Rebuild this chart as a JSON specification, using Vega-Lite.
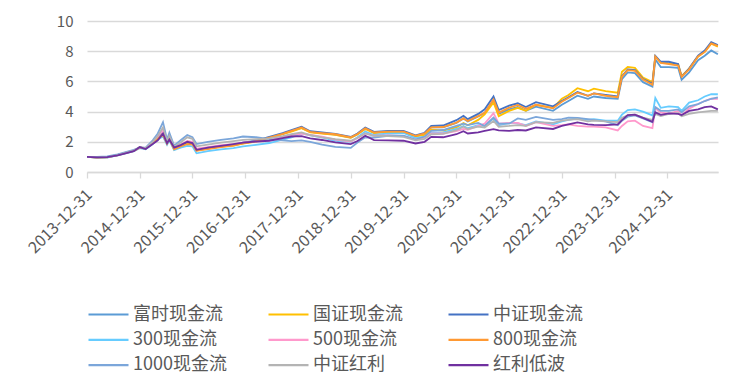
{
"$schema": "https://vega.github.io/schema/vega-lite/v6.json",
"width": 631, "height": 151,
"autosize": {"type": "none"},
"padding": {"left": 87, "top": 21, "right": 36, "bottom": 208},
"background": "white",
"data": {"values": [
{"d":"2013-12-31","s":"富时现金流","v":1.00},{"d":"2014-03-10","s":"富时现金流","v":0.97},{"d":"2014-05-20","s":"富时现金流","v":0.98},{"d":"2014-07-31","s":"富时现金流","v":1.12},{"d":"2014-09-30","s":"富时现金流","v":1.28},{"d":"2014-11-20","s":"富时现金流","v":1.40},{"d":"2014-12-31","s":"富时现金流","v":1.62},{"d":"2015-02-10","s":"富时现金流","v":1.55},{"d":"2015-03-31","s":"富时现金流","v":1.92},{"d":"2015-05-05","s":"富时现金流","v":2.25},{"d":"2015-06-10","s":"富时现金流","v":2.70},{"d":"2015-07-08","s":"富时现金流","v":1.95},{"d":"2015-07-24","s":"富时现金流","v":2.25},{"d":"2015-08-26","s":"富时现金流","v":1.55},{"d":"2015-10-10","s":"富时现金流","v":1.75},{"d":"2015-11-25","s":"富时现金流","v":1.95},{"d":"2015-12-31","s":"富时现金流","v":1.90},{"d":"2016-01-28","s":"富时现金流","v":1.45},{"d":"2016-04-15","s":"富时现金流","v":1.58},{"d":"2016-07-15","s":"富时现金流","v":1.70},{"d":"2016-10-10","s":"富时现金流","v":1.78},{"d":"2016-12-15","s":"富时现金流","v":1.92},{"d":"2017-03-15","s":"富时现金流","v":2.05},{"d":"2017-06-15","s":"富时现金流","v":2.28},{"d":"2017-09-15","s":"富时现金流","v":2.52},{"d":"2017-11-15","s":"富时现金流","v":2.72},{"d":"2018-01-24","s":"富时现金流","v":2.92},{"d":"2018-03-25","s":"富时现金流","v":2.65},{"d":"2018-06-15","s":"富时现金流","v":2.58},{"d":"2018-09-15","s":"富时现金流","v":2.48},{"d":"2018-12-31","s":"富时现金流","v":2.28},{"d":"2019-02-15","s":"富时现金流","v":2.50},{"d":"2019-04-10","s":"富时现金流","v":2.88},{"d":"2019-06-10","s":"富时现金流","v":2.60},{"d":"2019-09-15","s":"富时现金流","v":2.68},{"d":"2019-12-31","s":"富时现金流","v":2.66},{"d":"2020-03-23","s":"富时现金流","v":2.38},{"d":"2020-05-25","s":"富时现金流","v":2.55},{"d":"2020-07-10","s":"富时现金流","v":2.95},{"d":"2020-09-30","s":"富时现金流","v":2.95},{"d":"2020-12-31","s":"富时现金流","v":3.25},{"d":"2021-02-18","s":"富时现金流","v":3.55},{"d":"2021-03-20","s":"富时现金流","v":3.35},{"d":"2021-05-31","s":"富时现金流","v":3.68},{"d":"2021-07-15","s":"富时现金流","v":3.90},{"d":"2021-09-14","s":"富时现金流","v":4.75},{"d":"2021-10-20","s":"富时现金流","v":3.85},{"d":"2021-12-31","s":"富时现金流","v":4.15},{"d":"2022-03-01","s":"富时现金流","v":4.30},{"d":"2022-04-26","s":"富时现金流","v":4.05},{"d":"2022-07-05","s":"富时现金流","v":4.33},{"d":"2022-10-31","s":"富时现金流","v":4.05},{"d":"2022-12-31","s":"富时现金流","v":4.45},{"d":"2023-02-15","s":"富时现金流","v":4.70},{"d":"2023-04-18","s":"富时现金流","v":5.05},{"d":"2023-06-30","s":"富时现金流","v":4.85},{"d":"2023-08-10","s":"富时现金流","v":5.00},{"d":"2023-10-30","s":"富时现金流","v":4.90},{"d":"2024-01-22","s":"富时现金流","v":4.85},{"d":"2024-02-20","s":"富时现金流","v":6.15},{"d":"2024-03-31","s":"富时现金流","v":6.60},{"d":"2024-05-20","s":"富时现金流","v":6.55},{"d":"2024-07-15","s":"富时现金流","v":5.95},{"d":"2024-09-18","s":"富时现金流","v":5.65},{"d":"2024-10-08","s":"富时现金流","v":7.45},{"d":"2024-11-15","s":"富时现金流","v":6.95},{"d":"2025-01-10","s":"富时现金流","v":6.95},{"d":"2025-03-15","s":"富时现金流","v":6.90},{"d":"2025-04-08","s":"富时现金流","v":6.10},{"d":"2025-05-30","s":"富时现金流","v":6.60},{"d":"2025-07-31","s":"富时现金流","v":7.40},{"d":"2025-09-15","s":"富时现金流","v":7.70},{"d":"2025-10-30","s":"富时现金流","v":8.05},{"d":"2025-12-15","s":"富时现金流","v":7.80},
{"d":"2013-12-31","s":"国证现金流","v":1.00},{"d":"2014-03-10","s":"国证现金流","v":0.97},{"d":"2014-05-20","s":"国证现金流","v":0.98},{"d":"2014-07-31","s":"国证现金流","v":1.11},{"d":"2014-09-30","s":"国证现金流","v":1.27},{"d":"2014-11-20","s":"国证现金流","v":1.40},{"d":"2014-12-31","s":"国证现金流","v":1.60},{"d":"2015-02-10","s":"国证现金流","v":1.54},{"d":"2015-03-31","s":"国证现金流","v":1.90},{"d":"2015-05-05","s":"国证现金流","v":2.22},{"d":"2015-06-10","s":"国证现金流","v":2.55},{"d":"2015-07-08","s":"国证现金流","v":1.90},{"d":"2015-07-24","s":"国证现金流","v":2.20},{"d":"2015-08-26","s":"国证现金流","v":1.52},{"d":"2015-10-10","s":"国证现金流","v":1.72},{"d":"2015-11-25","s":"国证现金流","v":1.90},{"d":"2015-12-31","s":"国证现金流","v":1.86},{"d":"2016-01-28","s":"国证现金流","v":1.42},{"d":"2016-04-15","s":"国证现金流","v":1.55},{"d":"2016-07-15","s":"国证现金流","v":1.68},{"d":"2016-10-10","s":"国证现金流","v":1.75},{"d":"2016-12-15","s":"国证现金流","v":1.88},{"d":"2017-03-15","s":"国证现金流","v":2.02},{"d":"2017-06-15","s":"国证现金流","v":2.25},{"d":"2017-09-15","s":"国证现金流","v":2.50},{"d":"2017-11-15","s":"国证现金流","v":2.68},{"d":"2018-01-24","s":"国证现金流","v":2.90},{"d":"2018-03-25","s":"国证现金流","v":2.62},{"d":"2018-06-15","s":"国证现金流","v":2.55},{"d":"2018-09-15","s":"国证现金流","v":2.46},{"d":"2018-12-31","s":"国证现金流","v":2.26},{"d":"2019-02-15","s":"国证现金流","v":2.48},{"d":"2019-04-10","s":"国证现金流","v":2.85},{"d":"2019-06-10","s":"国证现金流","v":2.58},{"d":"2019-09-15","s":"国证现金流","v":2.65},{"d":"2019-12-31","s":"国证现金流","v":2.63},{"d":"2020-03-23","s":"国证现金流","v":2.35},{"d":"2020-05-25","s":"国证现金流","v":2.45},{"d":"2020-07-10","s":"国证现金流","v":2.80},{"d":"2020-09-30","s":"国证现金流","v":2.75},{"d":"2020-12-31","s":"国证现金流","v":2.95},{"d":"2021-02-18","s":"国证现金流","v":3.25},{"d":"2021-03-20","s":"国证现金流","v":3.10},{"d":"2021-05-31","s":"国证现金流","v":3.45},{"d":"2021-07-15","s":"国证现金流","v":3.82},{"d":"2021-09-14","s":"国证现金流","v":4.60},{"d":"2021-10-20","s":"国证现金流","v":3.70},{"d":"2021-12-31","s":"国证现金流","v":4.05},{"d":"2022-03-01","s":"国证现金流","v":4.25},{"d":"2022-04-26","s":"国证现金流","v":4.05},{"d":"2022-07-05","s":"国证现金流","v":4.45},{"d":"2022-10-31","s":"国证现金流","v":4.25},{"d":"2022-12-31","s":"国证现金流","v":4.85},{"d":"2023-02-15","s":"国证现金流","v":5.10},{"d":"2023-04-18","s":"国证现金流","v":5.55},{"d":"2023-06-30","s":"国证现金流","v":5.35},{"d":"2023-08-10","s":"国证现金流","v":5.52},{"d":"2023-10-30","s":"国证现金流","v":5.35},{"d":"2024-01-22","s":"国证现金流","v":5.25},{"d":"2024-02-20","s":"国证现金流","v":6.64},{"d":"2024-03-31","s":"国证现金流","v":6.95},{"d":"2024-05-20","s":"国证现金流","v":6.90},{"d":"2024-07-15","s":"国证现金流","v":6.25},{"d":"2024-09-18","s":"国证现金流","v":5.95},{"d":"2024-10-08","s":"国证现金流","v":7.65},{"d":"2024-11-15","s":"国证现金流","v":7.25},{"d":"2025-01-10","s":"国证现金流","v":7.20},{"d":"2025-03-15","s":"国证现金流","v":7.15},{"d":"2025-04-08","s":"国证现金流","v":6.35},{"d":"2025-05-30","s":"国证现金流","v":6.85},{"d":"2025-07-31","s":"国证现金流","v":7.65},{"d":"2025-09-15","s":"国证现金流","v":7.95},{"d":"2025-10-30","s":"国证现金流","v":8.50},{"d":"2025-12-15","s":"国证现金流","v":8.30},
{"d":"2013-12-31","s":"中证现金流","v":1.00},{"d":"2014-03-10","s":"中证现金流","v":0.97},{"d":"2014-05-20","s":"中证现金流","v":0.98},{"d":"2014-07-31","s":"中证现金流","v":1.13},{"d":"2014-09-30","s":"中证现金流","v":1.29},{"d":"2014-11-20","s":"中证现金流","v":1.42},{"d":"2014-12-31","s":"中证现金流","v":1.63},{"d":"2015-02-10","s":"中证现金流","v":1.56},{"d":"2015-03-31","s":"中证现金流","v":1.94},{"d":"2015-05-05","s":"中证现金流","v":2.28},{"d":"2015-06-10","s":"中证现金流","v":2.80},{"d":"2015-07-08","s":"中证现金流","v":1.98},{"d":"2015-07-24","s":"中证现金流","v":2.28},{"d":"2015-08-26","s":"中证现金流","v":1.57},{"d":"2015-10-10","s":"中证现金流","v":1.78},{"d":"2015-11-25","s":"中证现金流","v":1.98},{"d":"2015-12-31","s":"中证现金流","v":1.93},{"d":"2016-01-28","s":"中证现金流","v":1.48},{"d":"2016-04-15","s":"中证现金流","v":1.60},{"d":"2016-07-15","s":"中证现金流","v":1.72},{"d":"2016-10-10","s":"中证现金流","v":1.80},{"d":"2016-12-15","s":"中证现金流","v":1.95},{"d":"2017-03-15","s":"中证现金流","v":2.08},{"d":"2017-06-15","s":"中证现金流","v":2.32},{"d":"2017-09-15","s":"中证现金流","v":2.58},{"d":"2017-11-15","s":"中证现金流","v":2.78},{"d":"2018-01-24","s":"中证现金流","v":3.00},{"d":"2018-03-25","s":"中证现金流","v":2.70},{"d":"2018-06-15","s":"中证现金流","v":2.62},{"d":"2018-09-15","s":"中证现金流","v":2.52},{"d":"2018-12-31","s":"中证现金流","v":2.32},{"d":"2019-02-15","s":"中证现金流","v":2.55},{"d":"2019-04-10","s":"中证现金流","v":2.95},{"d":"2019-06-10","s":"中证现金流","v":2.66},{"d":"2019-09-15","s":"中证现金流","v":2.72},{"d":"2019-12-31","s":"中证现金流","v":2.72},{"d":"2020-03-23","s":"中证现金流","v":2.42},{"d":"2020-05-25","s":"中证现金流","v":2.60},{"d":"2020-07-10","s":"中证现金流","v":3.05},{"d":"2020-09-30","s":"中证现金流","v":3.08},{"d":"2020-12-31","s":"中证现金流","v":3.43},{"d":"2021-02-18","s":"中证现金流","v":3.72},{"d":"2021-03-20","s":"中证现金流","v":3.50},{"d":"2021-05-31","s":"中证现金流","v":3.85},{"d":"2021-07-15","s":"中证现金流","v":4.15},{"d":"2021-09-14","s":"中证现金流","v":5.00},{"d":"2021-10-20","s":"中证现金流","v":4.10},{"d":"2021-12-31","s":"中证现金流","v":4.40},{"d":"2022-03-01","s":"中证现金流","v":4.55},{"d":"2022-04-26","s":"中证现金流","v":4.30},{"d":"2022-07-05","s":"中证现金流","v":4.62},{"d":"2022-10-31","s":"中证现金流","v":4.35},{"d":"2022-12-31","s":"中证现金流","v":4.70},{"d":"2023-02-15","s":"中证现金流","v":4.95},{"d":"2023-04-18","s":"中证现金流","v":5.30},{"d":"2023-06-30","s":"中证现金流","v":5.05},{"d":"2023-08-10","s":"中证现金流","v":5.20},{"d":"2023-10-30","s":"中证现金流","v":5.10},{"d":"2024-01-22","s":"中证现金流","v":5.00},{"d":"2024-02-20","s":"中证现金流","v":6.35},{"d":"2024-03-31","s":"中证现金流","v":6.80},{"d":"2024-05-20","s":"中证现金流","v":6.75},{"d":"2024-07-15","s":"中证现金流","v":6.15},{"d":"2024-09-18","s":"中证现金流","v":5.85},{"d":"2024-10-08","s":"中证现金流","v":7.70},{"d":"2024-11-15","s":"中证现金流","v":7.30},{"d":"2025-01-10","s":"中证现金流","v":7.30},{"d":"2025-03-15","s":"中证现金流","v":7.15},{"d":"2025-04-08","s":"中证现金流","v":6.30},{"d":"2025-05-30","s":"中证现金流","v":6.85},{"d":"2025-07-31","s":"中证现金流","v":7.70},{"d":"2025-09-15","s":"中证现金流","v":8.05},{"d":"2025-10-30","s":"中证现金流","v":8.60},{"d":"2025-12-15","s":"中证现金流","v":8.40},
{"d":"2013-12-31","s":"300现金流","v":1.00},{"d":"2014-03-10","s":"300现金流","v":0.95},{"d":"2014-05-20","s":"300现金流","v":0.96},{"d":"2014-07-31","s":"300现金流","v":1.10},{"d":"2014-09-30","s":"300现金流","v":1.25},{"d":"2014-11-20","s":"300现金流","v":1.38},{"d":"2014-12-31","s":"300现金流","v":1.58},{"d":"2015-02-10","s":"300现金流","v":1.50},{"d":"2015-03-31","s":"300现金流","v":1.85},{"d":"2015-05-05","s":"300现金流","v":2.15},{"d":"2015-06-10","s":"300现金流","v":2.35},{"d":"2015-07-08","s":"300现金流","v":1.80},{"d":"2015-07-24","s":"300现金流","v":2.10},{"d":"2015-08-26","s":"300现金流","v":1.45},{"d":"2015-10-10","s":"300现金流","v":1.62},{"d":"2015-11-25","s":"300现金流","v":1.73},{"d":"2015-12-31","s":"300现金流","v":1.70},{"d":"2016-01-28","s":"300现金流","v":1.24},{"d":"2016-04-15","s":"300现金流","v":1.38},{"d":"2016-07-15","s":"300现金流","v":1.50},{"d":"2016-10-10","s":"300现金流","v":1.58},{"d":"2016-12-15","s":"300现金流","v":1.69},{"d":"2017-03-15","s":"300现金流","v":1.80},{"d":"2017-06-15","s":"300现金流","v":1.92},{"d":"2017-09-15","s":"300现金流","v":2.15},{"d":"2017-11-15","s":"300现金流","v":2.30},{"d":"2018-01-24","s":"300现金流","v":2.55},{"d":"2018-03-25","s":"300现金流","v":2.42},{"d":"2018-06-15","s":"300现金流","v":2.30},{"d":"2018-09-15","s":"300现金流","v":2.07},{"d":"2018-12-31","s":"300现金流","v":2.00},{"d":"2019-02-15","s":"300现金流","v":2.30},{"d":"2019-04-10","s":"300现金流","v":2.68},{"d":"2019-06-10","s":"300现金流","v":2.45},{"d":"2019-09-15","s":"300现金流","v":2.55},{"d":"2019-12-31","s":"300现金流","v":2.58},{"d":"2020-03-23","s":"300现金流","v":2.25},{"d":"2020-05-25","s":"300现金流","v":2.35},{"d":"2020-07-10","s":"300现金流","v":2.60},{"d":"2020-09-30","s":"300现金流","v":2.62},{"d":"2020-12-31","s":"300现金流","v":2.85},{"d":"2021-02-18","s":"300现金流","v":3.05},{"d":"2021-03-20","s":"300现金流","v":2.90},{"d":"2021-05-31","s":"300现金流","v":3.10},{"d":"2021-07-15","s":"300现金流","v":3.05},{"d":"2021-09-14","s":"300现金流","v":3.55},{"d":"2021-10-20","s":"300现金流","v":3.10},{"d":"2021-12-31","s":"300现金流","v":3.25},{"d":"2022-03-01","s":"300现金流","v":3.22},{"d":"2022-04-26","s":"300现金流","v":3.10},{"d":"2022-07-05","s":"300现金流","v":3.35},{"d":"2022-10-31","s":"300现金流","v":3.15},{"d":"2022-12-31","s":"300现金流","v":3.35},{"d":"2023-02-15","s":"300现金流","v":3.45},{"d":"2023-04-18","s":"300现金流","v":3.55},{"d":"2023-06-30","s":"300现金流","v":3.45},{"d":"2023-08-10","s":"300现金流","v":3.50},{"d":"2023-10-30","s":"300现金流","v":3.40},{"d":"2024-01-22","s":"300现金流","v":3.40},{"d":"2024-02-20","s":"300现金流","v":3.80},{"d":"2024-03-31","s":"300现金流","v":4.10},{"d":"2024-05-20","s":"300现金流","v":4.15},{"d":"2024-07-15","s":"300现金流","v":4.00},{"d":"2024-09-18","s":"300现金流","v":3.75},{"d":"2024-10-08","s":"300现金流","v":4.90},{"d":"2024-11-15","s":"300现金流","v":4.25},{"d":"2025-01-10","s":"300现金流","v":4.35},{"d":"2025-03-15","s":"300现金流","v":4.30},{"d":"2025-04-08","s":"300现金流","v":4.05},{"d":"2025-05-30","s":"300现金流","v":4.60},{"d":"2025-07-31","s":"300现金流","v":4.75},{"d":"2025-09-15","s":"300现金流","v":5.00},{"d":"2025-10-30","s":"300现金流","v":5.15},{"d":"2025-12-15","s":"300现金流","v":5.15},
{"d":"2013-12-31","s":"500现金流","v":1.00},{"d":"2014-03-10","s":"500现金流","v":0.98},{"d":"2014-05-20","s":"500现金流","v":1.00},{"d":"2014-07-31","s":"500现金流","v":1.12},{"d":"2014-09-30","s":"500现金流","v":1.30},{"d":"2014-11-20","s":"500现金流","v":1.42},{"d":"2014-12-31","s":"500现金流","v":1.60},{"d":"2015-02-10","s":"500现金流","v":1.58},{"d":"2015-03-31","s":"500现金流","v":1.98},{"d":"2015-05-05","s":"500现金流","v":2.35},{"d":"2015-06-10","s":"500现金流","v":2.75},{"d":"2015-07-08","s":"500现金流","v":2.00},{"d":"2015-07-24","s":"500现金流","v":2.30},{"d":"2015-08-26","s":"500现金流","v":1.60},{"d":"2015-10-10","s":"500现金流","v":1.82},{"d":"2015-11-25","s":"500现金流","v":2.05},{"d":"2015-12-31","s":"500现金流","v":2.00},{"d":"2016-01-28","s":"500现金流","v":1.55},{"d":"2016-04-15","s":"500现金流","v":1.65},{"d":"2016-07-15","s":"500现金流","v":1.78},{"d":"2016-10-10","s":"500现金流","v":1.85},{"d":"2016-12-15","s":"500现金流","v":1.95},{"d":"2017-03-15","s":"500现金流","v":2.02},{"d":"2017-06-15","s":"500现金流","v":2.10},{"d":"2017-09-15","s":"500现金流","v":2.32},{"d":"2017-11-15","s":"500现金流","v":2.45},{"d":"2018-01-24","s":"500现金流","v":2.55},{"d":"2018-03-25","s":"500现金流","v":2.45},{"d":"2018-06-15","s":"500现金流","v":2.35},{"d":"2018-09-15","s":"500现金流","v":2.15},{"d":"2018-12-31","s":"500现金流","v":2.02},{"d":"2019-02-15","s":"500现金流","v":2.25},{"d":"2019-04-10","s":"500现金流","v":2.55},{"d":"2019-06-10","s":"500现金流","v":2.40},{"d":"2019-09-15","s":"500现金流","v":2.42},{"d":"2019-12-31","s":"500现金流","v":2.38},{"d":"2020-03-23","s":"500现金流","v":2.15},{"d":"2020-05-25","s":"500现金流","v":2.28},{"d":"2020-07-10","s":"500现金流","v":2.55},{"d":"2020-09-30","s":"500现金流","v":2.55},{"d":"2020-12-31","s":"500现金流","v":2.70},{"d":"2021-02-18","s":"500现金流","v":2.85},{"d":"2021-03-20","s":"500现金流","v":2.80},{"d":"2021-05-31","s":"500现金流","v":3.05},{"d":"2021-07-15","s":"500现金流","v":3.20},{"d":"2021-09-14","s":"500现金流","v":3.90},{"d":"2021-10-20","s":"500现金流","v":3.20},{"d":"2021-12-31","s":"500现金流","v":3.25},{"d":"2022-03-01","s":"500现金流","v":3.25},{"d":"2022-04-26","s":"500现金流","v":3.05},{"d":"2022-07-05","s":"500现金流","v":3.30},{"d":"2022-10-31","s":"500现金流","v":3.05},{"d":"2022-12-31","s":"500现金流","v":3.10},{"d":"2023-02-15","s":"500现金流","v":3.15},{"d":"2023-04-18","s":"500现金流","v":3.05},{"d":"2023-06-30","s":"500现金流","v":3.00},{"d":"2023-08-10","s":"500现金流","v":3.00},{"d":"2023-10-30","s":"500现金流","v":2.95},{"d":"2024-01-22","s":"500现金流","v":2.75},{"d":"2024-02-20","s":"500现金流","v":3.05},{"d":"2024-03-31","s":"500现金流","v":3.35},{"d":"2024-05-20","s":"500现金流","v":3.40},{"d":"2024-07-15","s":"500现金流","v":3.05},{"d":"2024-09-18","s":"500现金流","v":2.90},{"d":"2024-10-08","s":"500现金流","v":4.20},{"d":"2024-11-15","s":"500现金流","v":3.95},{"d":"2025-01-10","s":"500现金流","v":3.85},{"d":"2025-03-15","s":"500现金流","v":4.05},{"d":"2025-04-08","s":"500现金流","v":3.75},{"d":"2025-05-30","s":"500现金流","v":4.20},{"d":"2025-07-31","s":"500现金流","v":4.50},{"d":"2025-09-15","s":"500现金流","v":4.70},{"d":"2025-10-30","s":"500现金流","v":4.85},{"d":"2025-12-15","s":"500现金流","v":4.85},
{"d":"2013-12-31","s":"800现金流","v":1.00},{"d":"2014-03-10","s":"800现金流","v":0.96},{"d":"2014-05-20","s":"800现金流","v":0.97},{"d":"2014-07-31","s":"800现金流","v":1.12},{"d":"2014-09-30","s":"800现金流","v":1.28},{"d":"2014-11-20","s":"800现金流","v":1.40},{"d":"2014-12-31","s":"800现金流","v":1.62},{"d":"2015-02-10","s":"800现金流","v":1.55},{"d":"2015-03-31","s":"800现金流","v":1.90},{"d":"2015-05-05","s":"800现金流","v":2.20},{"d":"2015-06-10","s":"800现金流","v":2.45},{"d":"2015-07-08","s":"800现金流","v":1.88},{"d":"2015-07-24","s":"800现金流","v":2.18},{"d":"2015-08-26","s":"800现金流","v":1.50},{"d":"2015-10-10","s":"800现金流","v":1.70},{"d":"2015-11-25","s":"800现金流","v":1.85},{"d":"2015-12-31","s":"800现金流","v":1.82},{"d":"2016-01-28","s":"800现金流","v":1.40},{"d":"2016-04-15","s":"800现金流","v":1.52},{"d":"2016-07-15","s":"800现金流","v":1.65},{"d":"2016-10-10","s":"800现金流","v":1.74},{"d":"2016-12-15","s":"800现金流","v":1.90},{"d":"2017-03-15","s":"800现金流","v":2.03},{"d":"2017-06-15","s":"800现金流","v":2.28},{"d":"2017-09-15","s":"800现金流","v":2.52},{"d":"2017-11-15","s":"800现金流","v":2.72},{"d":"2018-01-24","s":"800现金流","v":2.95},{"d":"2018-03-25","s":"800现金流","v":2.66},{"d":"2018-06-15","s":"800现金流","v":2.58},{"d":"2018-09-15","s":"800现金流","v":2.50},{"d":"2018-12-31","s":"800现金流","v":2.30},{"d":"2019-02-15","s":"800现金流","v":2.52},{"d":"2019-04-10","s":"800现金流","v":2.90},{"d":"2019-06-10","s":"800现金流","v":2.62},{"d":"2019-09-15","s":"800现金流","v":2.68},{"d":"2019-12-31","s":"800现金流","v":2.68},{"d":"2020-03-23","s":"800现金流","v":2.40},{"d":"2020-05-25","s":"800现金流","v":2.55},{"d":"2020-07-10","s":"800现金流","v":2.95},{"d":"2020-09-30","s":"800现金流","v":2.98},{"d":"2020-12-31","s":"800现金流","v":3.27},{"d":"2021-02-18","s":"800现金流","v":3.55},{"d":"2021-03-20","s":"800现金流","v":3.38},{"d":"2021-05-31","s":"800现金流","v":3.70},{"d":"2021-07-15","s":"800现金流","v":3.93},{"d":"2021-09-14","s":"800现金流","v":4.80},{"d":"2021-10-20","s":"800现金流","v":3.93},{"d":"2021-12-31","s":"800现金流","v":4.26},{"d":"2022-03-01","s":"800现金流","v":4.44},{"d":"2022-04-26","s":"800现金流","v":4.18},{"d":"2022-07-05","s":"800现金流","v":4.45},{"d":"2022-10-31","s":"800现金流","v":4.22},{"d":"2022-12-31","s":"800现金流","v":4.65},{"d":"2023-02-15","s":"800现金流","v":4.90},{"d":"2023-04-18","s":"800现金流","v":5.25},{"d":"2023-06-30","s":"800现金流","v":5.05},{"d":"2023-08-10","s":"800现金流","v":5.20},{"d":"2023-10-30","s":"800现金流","v":5.05},{"d":"2024-01-22","s":"800现金流","v":4.95},{"d":"2024-02-20","s":"800现金流","v":6.31},{"d":"2024-03-31","s":"800现金流","v":6.75},{"d":"2024-05-20","s":"800现金流","v":6.70},{"d":"2024-07-15","s":"800现金流","v":6.12},{"d":"2024-09-18","s":"800现金流","v":5.78},{"d":"2024-10-08","s":"800现金流","v":7.65},{"d":"2024-11-15","s":"800现金流","v":7.22},{"d":"2025-01-10","s":"800现金流","v":7.15},{"d":"2025-03-15","s":"800现金流","v":7.05},{"d":"2025-04-08","s":"800现金流","v":6.30},{"d":"2025-05-30","s":"800现金流","v":6.80},{"d":"2025-07-31","s":"800现金流","v":7.65},{"d":"2025-09-15","s":"800现金流","v":7.95},{"d":"2025-10-30","s":"800现金流","v":8.52},{"d":"2025-12-15","s":"800现金流","v":8.35},
{"d":"2013-12-31","s":"1000现金流","v":1.00},{"d":"2014-03-10","s":"1000现金流","v":1.00},{"d":"2014-05-20","s":"1000现金流","v":1.03},{"d":"2014-07-31","s":"1000现金流","v":1.16},{"d":"2014-09-30","s":"1000现金流","v":1.33},{"d":"2014-11-20","s":"1000现金流","v":1.46},{"d":"2014-12-31","s":"1000现金流","v":1.62},{"d":"2015-02-10","s":"1000现金流","v":1.62},{"d":"2015-03-31","s":"1000现金流","v":2.10},{"d":"2015-05-05","s":"1000现金流","v":2.55},{"d":"2015-06-10","s":"1000现金流","v":3.30},{"d":"2015-07-08","s":"1000现金流","v":2.15},{"d":"2015-07-24","s":"1000现金流","v":2.60},{"d":"2015-08-26","s":"1000现金流","v":1.75},{"d":"2015-10-10","s":"1000现金流","v":2.10},{"d":"2015-11-25","s":"1000现金流","v":2.45},{"d":"2015-12-31","s":"1000现金流","v":2.30},{"d":"2016-01-28","s":"1000现金流","v":1.85},{"d":"2016-04-15","s":"1000现金流","v":2.00},{"d":"2016-07-15","s":"1000现金流","v":2.13},{"d":"2016-10-10","s":"1000现金流","v":2.22},{"d":"2016-12-15","s":"1000现金流","v":2.35},{"d":"2017-03-15","s":"1000现金流","v":2.30},{"d":"2017-06-15","s":"1000现金流","v":2.18},{"d":"2017-09-15","s":"1000现金流","v":2.10},{"d":"2017-11-15","s":"1000现金流","v":2.05},{"d":"2018-01-24","s":"1000现金流","v":2.10},{"d":"2018-03-25","s":"1000现金流","v":2.00},{"d":"2018-06-15","s":"1000现金流","v":1.82},{"d":"2018-09-15","s":"1000现金流","v":1.67},{"d":"2018-12-31","s":"1000现金流","v":1.60},{"d":"2019-02-15","s":"1000现金流","v":1.95},{"d":"2019-04-10","s":"1000现金流","v":2.30},{"d":"2019-06-10","s":"1000现金流","v":2.28},{"d":"2019-09-15","s":"1000现金流","v":2.40},{"d":"2019-12-31","s":"1000现金流","v":2.40},{"d":"2020-03-23","s":"1000现金流","v":2.15},{"d":"2020-05-25","s":"1000现金流","v":2.35},{"d":"2020-07-10","s":"1000现金流","v":2.73},{"d":"2020-09-30","s":"1000现金流","v":2.78},{"d":"2020-12-31","s":"1000现金流","v":3.05},{"d":"2021-02-18","s":"1000现金流","v":3.20},{"d":"2021-03-20","s":"1000现金流","v":3.10},{"d":"2021-05-31","s":"1000现金流","v":3.25},{"d":"2021-07-15","s":"1000现金流","v":3.05},{"d":"2021-09-14","s":"1000现金流","v":3.60},{"d":"2021-10-20","s":"1000现金流","v":3.20},{"d":"2021-12-31","s":"1000现金流","v":3.20},{"d":"2022-03-01","s":"1000现金流","v":3.55},{"d":"2022-04-26","s":"1000现金流","v":3.45},{"d":"2022-07-05","s":"1000现金流","v":3.65},{"d":"2022-10-31","s":"1000现金流","v":3.45},{"d":"2022-12-31","s":"1000现金流","v":3.50},{"d":"2023-02-15","s":"1000现金流","v":3.60},{"d":"2023-04-18","s":"1000现金流","v":3.58},{"d":"2023-06-30","s":"1000现金流","v":3.50},{"d":"2023-08-10","s":"1000现金流","v":3.45},{"d":"2023-10-30","s":"1000现金流","v":3.35},{"d":"2024-01-22","s":"1000现金流","v":3.10},{"d":"2024-02-20","s":"1000现金流","v":3.40},{"d":"2024-03-31","s":"1000现金流","v":3.66},{"d":"2024-05-20","s":"1000现金流","v":3.75},{"d":"2024-07-15","s":"1000现金流","v":3.55},{"d":"2024-09-18","s":"1000现金流","v":3.30},{"d":"2024-10-08","s":"1000现金流","v":4.30},{"d":"2024-11-15","s":"1000现金流","v":4.05},{"d":"2025-01-10","s":"1000现金流","v":4.05},{"d":"2025-03-15","s":"1000现金流","v":4.15},{"d":"2025-04-08","s":"1000现金流","v":3.95},{"d":"2025-05-30","s":"1000现金流","v":4.35},{"d":"2025-07-31","s":"1000现金流","v":4.50},{"d":"2025-09-15","s":"1000现金流","v":4.70},{"d":"2025-10-30","s":"1000现金流","v":4.85},{"d":"2025-12-15","s":"1000现金流","v":4.95},
{"d":"2013-12-31","s":"中证红利","v":1.00},{"d":"2014-03-10","s":"中证红利","v":0.96},{"d":"2014-05-20","s":"中证红利","v":0.97},{"d":"2014-07-31","s":"中证红利","v":1.12},{"d":"2014-09-30","s":"中证红利","v":1.28},{"d":"2014-11-20","s":"中证红利","v":1.42},{"d":"2014-12-31","s":"中证红利","v":1.66},{"d":"2015-02-10","s":"中证红利","v":1.58},{"d":"2015-03-31","s":"中证红利","v":2.00},{"d":"2015-05-05","s":"中证红利","v":2.40},{"d":"2015-06-10","s":"中证红利","v":2.95},{"d":"2015-07-08","s":"中证红利","v":2.05},{"d":"2015-07-24","s":"中证红利","v":2.40},{"d":"2015-08-26","s":"中证红利","v":1.65},{"d":"2015-10-10","s":"中证红利","v":1.95},{"d":"2015-11-25","s":"中证红利","v":2.30},{"d":"2015-12-31","s":"中证红利","v":2.20},{"d":"2016-01-28","s":"中证红利","v":1.70},{"d":"2016-04-15","s":"中证红利","v":1.82},{"d":"2016-07-15","s":"中证红利","v":1.95},{"d":"2016-10-10","s":"中证红利","v":2.05},{"d":"2016-12-15","s":"中证红利","v":2.13},{"d":"2017-03-15","s":"中证红利","v":2.18},{"d":"2017-06-15","s":"中证红利","v":2.22},{"d":"2017-09-15","s":"中证红利","v":2.38},{"d":"2017-11-15","s":"中证红利","v":2.50},{"d":"2018-01-24","s":"中证红利","v":2.62},{"d":"2018-03-25","s":"中证红利","v":2.45},{"d":"2018-06-15","s":"中证红利","v":2.30},{"d":"2018-09-15","s":"中证红利","v":2.18},{"d":"2018-12-31","s":"中证红利","v":2.07},{"d":"2019-02-15","s":"中证红利","v":2.25},{"d":"2019-04-10","s":"中证红利","v":2.55},{"d":"2019-06-10","s":"中证红利","v":2.40},{"d":"2019-09-15","s":"中证红利","v":2.38},{"d":"2019-12-31","s":"中证红利","v":2.33},{"d":"2020-03-23","s":"中证红利","v":2.10},{"d":"2020-05-25","s":"中证红利","v":2.20},{"d":"2020-07-10","s":"中证红利","v":2.50},{"d":"2020-09-30","s":"中证红利","v":2.52},{"d":"2020-12-31","s":"中证红利","v":2.77},{"d":"2021-02-18","s":"中证红利","v":3.00},{"d":"2021-03-20","s":"中证红利","v":2.85},{"d":"2021-05-31","s":"中证红利","v":3.00},{"d":"2021-07-15","s":"中证红利","v":2.95},{"d":"2021-09-14","s":"中证红利","v":3.38},{"d":"2021-10-20","s":"中证红利","v":3.00},{"d":"2021-12-31","s":"中证红利","v":3.05},{"d":"2022-03-01","s":"中证红利","v":3.11},{"d":"2022-04-26","s":"中证红利","v":3.05},{"d":"2022-07-05","s":"中证红利","v":3.30},{"d":"2022-10-31","s":"中证红利","v":3.25},{"d":"2022-12-31","s":"中证红利","v":3.40},{"d":"2023-02-15","s":"中证红利","v":3.45},{"d":"2023-04-18","s":"中证红利","v":3.50},{"d":"2023-06-30","s":"中证红利","v":3.35},{"d":"2023-08-10","s":"中证红利","v":3.40},{"d":"2023-10-30","s":"中证红利","v":3.35},{"d":"2024-01-22","s":"中证红利","v":3.30},{"d":"2024-02-20","s":"中证红利","v":3.60},{"d":"2024-03-31","s":"中证红利","v":3.75},{"d":"2024-05-20","s":"中证红利","v":3.80},{"d":"2024-07-15","s":"中证红利","v":3.60},{"d":"2024-09-18","s":"中证红利","v":3.45},{"d":"2024-10-08","s":"中证红利","v":3.85},{"d":"2024-11-15","s":"中证红利","v":3.70},{"d":"2025-01-10","s":"中证红利","v":3.85},{"d":"2025-03-15","s":"中证红利","v":3.90},{"d":"2025-04-08","s":"中证红利","v":3.70},{"d":"2025-05-30","s":"中证红利","v":3.85},{"d":"2025-07-31","s":"中证红利","v":3.95},{"d":"2025-09-15","s":"中证红利","v":4.00},{"d":"2025-10-30","s":"中证红利","v":4.05},{"d":"2025-12-15","s":"中证红利","v":4.05},
{"d":"2013-12-31","s":"红利低波","v":1.00},{"d":"2014-03-10","s":"红利低波","v":0.97},{"d":"2014-05-20","s":"红利低波","v":0.98},{"d":"2014-07-31","s":"红利低波","v":1.10},{"d":"2014-09-30","s":"红利低波","v":1.25},{"d":"2014-11-20","s":"红利低波","v":1.38},{"d":"2014-12-31","s":"红利低波","v":1.65},{"d":"2015-02-10","s":"红利低波","v":1.52},{"d":"2015-03-31","s":"红利低波","v":1.85},{"d":"2015-05-05","s":"红利低波","v":2.10},{"d":"2015-06-10","s":"红利低波","v":2.55},{"d":"2015-07-08","s":"红利低波","v":1.90},{"d":"2015-07-24","s":"红利低波","v":2.15},{"d":"2015-08-26","s":"红利低波","v":1.62},{"d":"2015-10-10","s":"红利低波","v":1.78},{"d":"2015-11-25","s":"红利低波","v":2.00},{"d":"2015-12-31","s":"红利低波","v":1.92},{"d":"2016-01-28","s":"红利低波","v":1.47},{"d":"2016-04-15","s":"红利低波","v":1.62},{"d":"2016-07-15","s":"红利低波","v":1.73},{"d":"2016-10-10","s":"红利低波","v":1.85},{"d":"2016-12-15","s":"红利低波","v":1.95},{"d":"2017-03-15","s":"红利低波","v":2.02},{"d":"2017-06-15","s":"红利低波","v":2.07},{"d":"2017-09-15","s":"红利低波","v":2.25},{"d":"2017-11-15","s":"红利低波","v":2.35},{"d":"2018-01-24","s":"红利低波","v":2.38},{"d":"2018-03-25","s":"红利低波","v":2.22},{"d":"2018-06-15","s":"红利低波","v":2.12},{"d":"2018-09-15","s":"红利低波","v":1.96},{"d":"2018-12-31","s":"红利低波","v":1.85},{"d":"2019-02-15","s":"红利低波","v":2.05},{"d":"2019-04-10","s":"红利低波","v":2.40},{"d":"2019-06-10","s":"红利低波","v":2.11},{"d":"2019-09-15","s":"红利低波","v":2.10},{"d":"2019-12-31","s":"红利低波","v":2.07},{"d":"2020-03-23","s":"红利低波","v":1.89},{"d":"2020-05-25","s":"红利低波","v":2.00},{"d":"2020-07-10","s":"红利低波","v":2.33},{"d":"2020-09-30","s":"红利低波","v":2.30},{"d":"2020-12-31","s":"红利低波","v":2.50},{"d":"2021-02-18","s":"红利低波","v":2.70},{"d":"2021-03-20","s":"红利低波","v":2.55},{"d":"2021-05-31","s":"红利低波","v":2.62},{"d":"2021-07-15","s":"红利低波","v":2.72},{"d":"2021-09-14","s":"红利低波","v":2.84},{"d":"2021-10-20","s":"红利低波","v":2.75},{"d":"2021-12-31","s":"红利低波","v":2.72},{"d":"2022-03-01","s":"红利低波","v":2.78},{"d":"2022-04-26","s":"红利低波","v":2.75},{"d":"2022-07-05","s":"红利低波","v":2.96},{"d":"2022-10-31","s":"红利低波","v":2.85},{"d":"2022-12-31","s":"红利低波","v":3.05},{"d":"2023-02-15","s":"红利低波","v":3.15},{"d":"2023-04-18","s":"红利低波","v":3.28},{"d":"2023-06-30","s":"红利低波","v":3.15},{"d":"2023-08-10","s":"红利低波","v":3.12},{"d":"2023-10-30","s":"红利低波","v":3.10},{"d":"2024-01-22","s":"红利低波","v":3.15},{"d":"2024-02-20","s":"红利低波","v":3.44},{"d":"2024-03-31","s":"红利低波","v":3.77},{"d":"2024-05-20","s":"红利低波","v":3.80},{"d":"2024-07-15","s":"红利低波","v":3.58},{"d":"2024-09-18","s":"红利低波","v":3.32},{"d":"2024-10-08","s":"红利低波","v":3.95},{"d":"2024-11-15","s":"红利低波","v":3.78},{"d":"2025-01-10","s":"红利低波","v":3.88},{"d":"2025-03-15","s":"红利低波","v":3.85},{"d":"2025-04-08","s":"红利低波","v":3.77},{"d":"2025-05-30","s":"红利低波","v":4.05},{"d":"2025-07-31","s":"红利低波","v":4.15},{"d":"2025-09-15","s":"红利低波","v":4.30},{"d":"2025-10-30","s":"红利低波","v":4.35},{"d":"2025-12-15","s":"红利低波","v":4.15}
]},
"mark": {"type": "line", "strokeWidth": 1.8},
"encoding": {
"x": {"field": "d", "type": "temporal",
 "scale": {"type": "utc", "domain": [{"year": 2013, "month": 12, "date": 31, "utc": true}, {"year": 2025, "month": 12, "date": 16, "utc": true}]},
 "axis": {"title": null, "grid": false, "labelExpr": "utcFormat(datum.value, '%Y-%m-%d')",
  "values": [{"year":2013,"month":12,"date":31,"utc":true},{"year":2014,"month":12,"date":31,"utc":true},{"year":2015,"month":12,"date":31,"utc":true},{"year":2016,"month":12,"date":31,"utc":true},{"year":2017,"month":12,"date":31,"utc":true},{"year":2018,"month":12,"date":31,"utc":true},{"year":2019,"month":12,"date":31,"utc":true},{"year":2020,"month":12,"date":31,"utc":true},{"year":2021,"month":12,"date":31,"utc":true},{"year":2022,"month":12,"date":31,"utc":true},{"year":2023,"month":12,"date":31,"utc":true},{"year":2024,"month":12,"date":31,"utc":true}],
  "labelAngle": -45, "labelAlign": "right", "labelBaseline": "middle", "labelFontSize": 16, "labelColor": "#595959", "labelFont": "Noto Sans CJK SC", "labelPadding": 14, "labelOffset": 2, "labelOverlap": false, "labelFlush": false, "labelBound": false,
  "tickSize": 6, "tickColor": "#D9D9D9", "tickWidth": 1.3, "domainColor": "#D9D9D9", "domainWidth": 1.3}},
"y": {"field": "v", "type": "quantitative", "scale": {"domain": [0, 10], "nice": false},
 "axis": {"title": null, "values": [0, 2, 4, 6, 8, 10], "domain": false, "ticks": false, "labelPadding": 14, "labelFontSize": 15, "labelColor": "#595959", "labelFont": "Noto Sans CJK SC", "gridColor": "#D9D9D9", "gridWidth": 1.3}},
"color": {"field": "s", "type": "nominal",
 "scale": {"domain": ["富时现金流","国证现金流","中证现金流","300现金流","500现金流","800现金流","1000现金流","中证红利","红利低波"],
  "range": ["#5B9BD5","#FFC000","#4472C4","#66CCFF","#FF99CC","#FF9933","#7BA6DA","#B4B4B4","#7030A0"]},
 "legend": {"title": null, "orient": "none", "legendX": 0, "legendY": 285.5, "direction": "horizontal", "columns": 3, "gridAlign": "all",
  "symbolType": "stroke", "symbolSize": 1600, "symbolStrokeWidth": 2.2, "labelFontSize": 18, "labelColor": "#595959", "labelFont": "Noto Sans CJK SC", "labelOffset": 3, "labelLimit": 300,
  "clipHeight": 16, "columnPadding": 40, "rowPadding": 7.3, "padding": 0}}
},
"config": {"view": {"stroke": null}, "font": "Noto Sans CJK SC"}
}
